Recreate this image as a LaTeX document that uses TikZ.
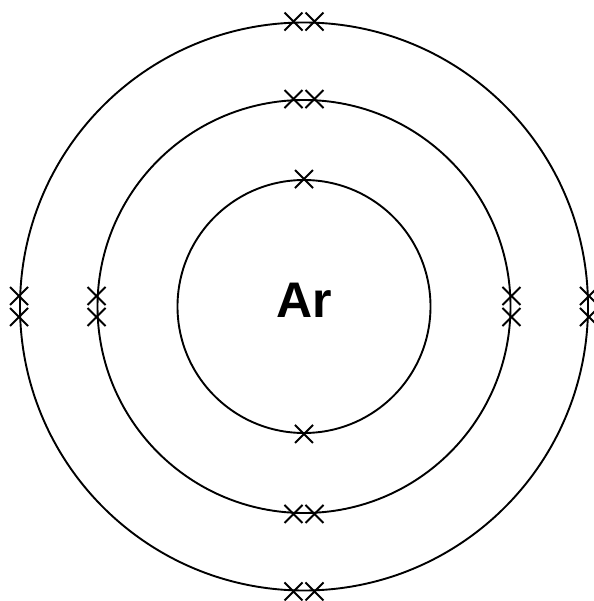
\documentclass[tikz,border=0pt]{standalone}
\usepackage{fontspec}
\setmainfont{Liberation Sans}
\usetikzlibrary{shapes.misc, calc}
\tikzset{
    shell/.style={circle, draw=black, line width=1.9pt, inner sep=0pt},
    electron/.style={cross out, draw=black, line width=2pt, minimum size=16pt, inner sep=0pt},
    symbol/.style={font=\fontsize{50}{50}\selectfont\bfseries, inner sep=0pt}
}
\begin{document}
\begin{tikzpicture}[x=1pt, y=-1pt]
    \useasboundingbox (0,0) rectangle (593,601);
    \coordinate (c) at (304,306.5);

    % shells
    \node[shell, minimum size=253pt] (first) at (c) {};
    \node[shell, minimum size=413pt] (second) at (c) {};
    \node[shell, minimum size=568pt] (third) at (c) {};

    \node[symbol, anchor=base] (ar) at (304,317.5) {Ar};

    % first shell: 2 electrons
    \node[electron] (e1a) at (first.north) {};
    \node[electron] (e1b) at (first.south) {};

    % second and third shells: 8 electrons each
    \foreach \s in {second, third} {
        \foreach \d in {-10.5, 10.5} {
            \node[electron] at ($(\s.north)+(\d,0)$) {};
            \node[electron] at ($(\s.south)+(\d,0)$) {};
            \node[electron] at ($(\s.west)+(0,\d)$) {};
            \node[electron] at ($(\s.east)+(0,\d)$) {};
        }
    }
\end{tikzpicture}
\end{document}
